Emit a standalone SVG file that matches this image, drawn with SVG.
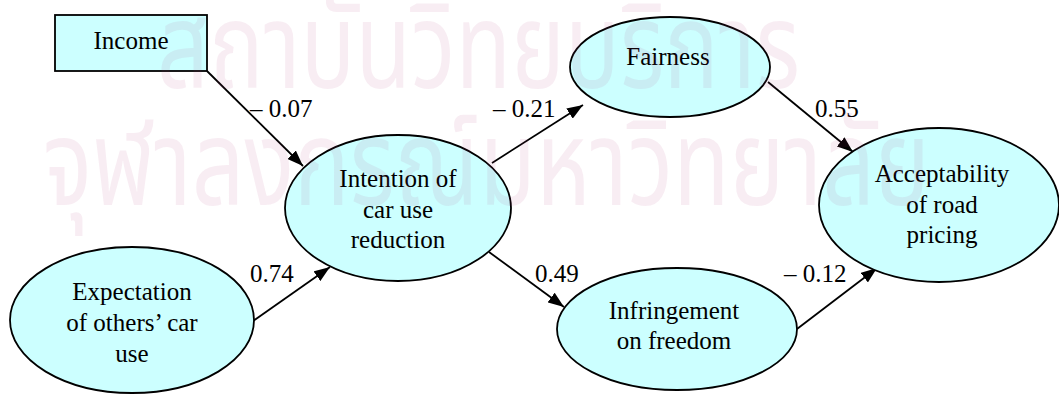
<svg xmlns="http://www.w3.org/2000/svg" width="1059" height="394" viewBox="0 0 1059 394">
<defs>
<style>
.node{fill:#ccffff;stroke:#000;stroke-width:1.8}
.lbl{font-family:'Liberation Serif','Times New Roman',serif;font-size:25px;fill:#000}
.mid{text-anchor:middle}
.edge{stroke:#000;stroke-width:1.8;fill:none;marker-end:url(#arr)}
.wm{font-family:'Noto Sans Thai','Loma','Garuda',sans-serif;font-size:120px;fill:#b03070;fill-opacity:0.085}
</style>
<marker id="arr" viewBox="0 0 16 12" markerUnits="userSpaceOnUse" markerWidth="16" markerHeight="12" refX="16" refY="6" orient="auto">
<path d="M0,0 L16,6 L0,12 z" fill="#000"/>
</marker>
</defs>
<rect width="1059" height="394" fill="#fff"/>
<g id="connectors">
<line class="edge" x1="207" y1="71" x2="303" y2="166"/>
<line class="edge" x1="253" y1="321" x2="330" y2="267"/>
<line class="edge" x1="492" y1="163" x2="583" y2="105"/>
<line class="edge" x1="489" y1="252" x2="564" y2="307"/>
<line class="edge" x1="768" y1="82" x2="853" y2="152"/>
<line class="edge" x1="797" y1="329" x2="877" y2="268"/>
<text class="lbl" x="250" y="117">– 0.07</text>
<text class="lbl" x="493" y="117">– 0.21</text>
<text class="lbl" x="815" y="117">0.55</text>
<text class="lbl" x="250" y="282">0.74</text>
<text class="lbl" x="535" y="282">0.49</text>
<text class="lbl" x="784" y="282">– 0.12</text>
</g>
<g id="income">
<rect class="node" x="55" y="15" width="152" height="56"/>
<text class="lbl mid" x="131" y="49">Income</text>
</g>
<g id="expectation">
<ellipse class="node" cx="132" cy="320" rx="122" ry="73"/>
<text class="lbl mid" x="132" y="300">Expectation</text>
<text class="lbl mid" x="132" y="331">of others’ car</text>
<text class="lbl mid" x="132" y="362">use</text>
</g>
<g id="intention">
<ellipse class="node" cx="398" cy="208" rx="113" ry="73"/>
<text class="lbl mid" x="398" y="187">Intention of</text>
<text class="lbl mid" x="398" y="217.5">car use</text>
<text class="lbl mid" x="398" y="248">reduction</text>
</g>
<g id="fairness">
<ellipse class="node" cx="670" cy="67" rx="100" ry="50"/>
<text class="lbl mid" x="668" y="65">Fairness</text>
</g>
<g id="infringement">
<ellipse class="node" cx="677" cy="329" rx="120" ry="61"/>
<text class="lbl mid" x="674" y="319">Infringement</text>
<text class="lbl mid" x="674" y="349">on freedom</text>
</g>
<g id="acceptability">
<ellipse class="node" cx="939" cy="205" rx="120" ry="77"/>
<text class="lbl mid" x="942" y="182">Acceptability</text>
<text class="lbl mid" x="942" y="212.5">of road</text>
<text class="lbl mid" x="942" y="243">pricing</text>
</g>
<g id="watermark" pointer-events="none">
<text class="wm" x="157" y="88" textLength="643" lengthAdjust="spacingAndGlyphs">สถาบันวิทยบริการ</text>
<text class="wm" x="43" y="205" textLength="887" lengthAdjust="spacingAndGlyphs">จุฬาลงกรณ์มหาวิทยาลัย</text>
</g>
</svg>
